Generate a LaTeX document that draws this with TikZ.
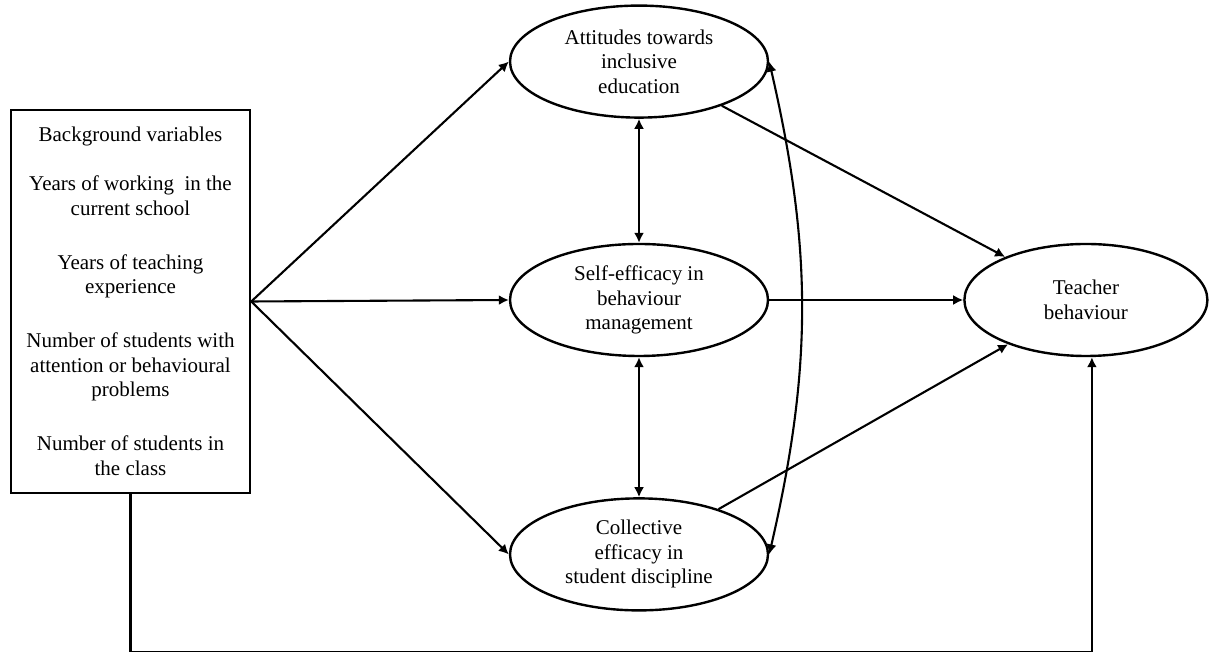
\documentclass[tikz,border=0pt]{standalone}
\usepackage{fontspec}
\setmainfont{Liberation Serif}
\usetikzlibrary{shapes.geometric, arrows.meta, positioning}
\tikzset{
  varbox/.style={rectangle, draw=black, line width=1.25pt, align=center,
                 minimum width=119.5pt, minimum height=191.5pt, inner sep=2pt},
  latent/.style={ellipse, draw=black, line width=1.2pt, align=center,
                 minimum width=#1, minimum height=56pt, inner sep=1pt},
  latent/.default=129pt,
  arrow/.style={-{Latex[length=5pt,width=5pt]}, line width=1.05pt},
  dblarrow/.style={{Latex[length=5pt,width=5pt]}-{Latex[length=5pt,width=5pt]},
                   line width=1.05pt},
}

\begin{document}
\begin{tikzpicture}[x=0.5pt, y=0.5pt, font=\fontsize{10.5}{12.25}\selectfont]
\useasboundingbox (0,0) rectangle (1210,652);

% ── Background variables ──────────────────────────────────────────────────────
\node[varbox] (bg) at (130.5,350.5)
  {Background variables\\[12.25pt]
   Years of working~ in the\\current school\\[14.75pt]
   Years of teaching\\experience\\[14.75pt]
   Number of students with\\attention or behavioural\\problems\\[14.75pt]
   Number of students in\\the class};

% ── Mediators ─────────────────────────────────────────────────────────────────
\node[latent] (self) at (639,352) {Self-efficacy in\\behaviour\\management};
\node[latent, above=62pt of self] (att)
  {Attitudes towards\\inclusive\\education};
\node[latent, below=70pt of self] (col)
  {Collective\\efficacy in\\student discipline};

% ── Outcome ───────────────────────────────────────────────────────────────────
\node[latent=121.5pt, right=97pt of self] (tb) {Teacher\\behaviour};

\coordinate (loopcorner) at (130.5,0.3);

% ── Arrows: background → mediators ───────────────────────────────────────────
\draw[arrow] (bg.east) -- (att.west);
\draw[arrow] (bg.east) -- (self.west);
\draw[arrow] (bg.east) -- (col.west);

% ── Correlations between mediators ───────────────────────────────────────────
\draw[dblarrow] (att) -- (self);
\draw[dblarrow] (self) -- (col);
\draw[dblarrow] (att.east) to[bend left=13] (col.east);

% ── Arrows: mediators → teacher behaviour ────────────────────────────────────
\draw[arrow] (att) -- (tb);
\draw[arrow] (self) -- (tb);
\draw[arrow] (col) -- (tb);

% ── Direct path ───────────────────────────────────────────────────────────────
\draw[arrow] (bg.south) -- (loopcorner) -| ([xshift=3pt]tb.south);

\end{tikzpicture}
\end{document}
